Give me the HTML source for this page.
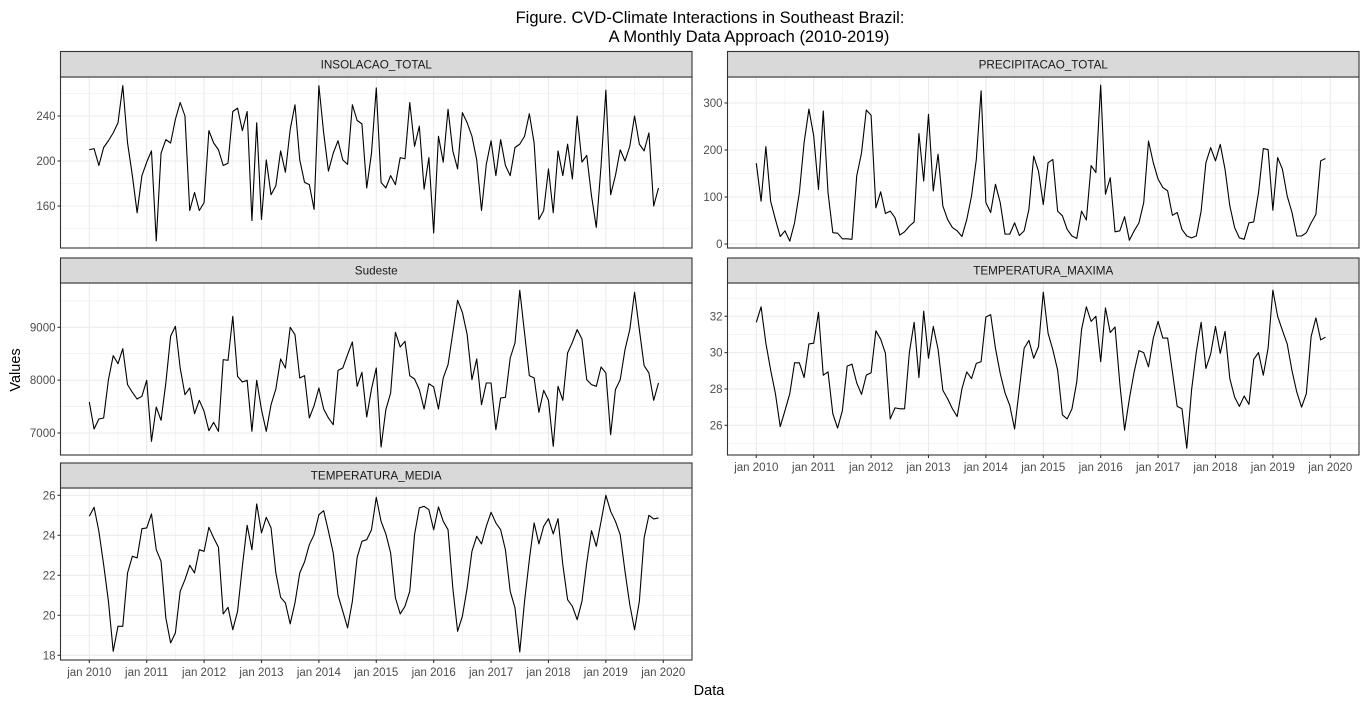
<!DOCTYPE html>
<html><head><meta charset="utf-8">
<style>
html,body{margin:0;padding:0;background:#fff;}
svg{display:block;font-family:"Liberation Sans",Arial,sans-serif;}
</style></head>
<body>
<svg id="chart" width="1366" height="705" viewBox="0 0 1366 705" xmlns="http://www.w3.org/2000/svg">
<rect width="1366" height="705" fill="#fff"/>
<text x="710" y="23" font-size="16.5" text-anchor="middle" fill="#000">Figure. CVD-Climate Interactions in Southeast Brazil:</text>
<text x="749" y="42" font-size="16.5" text-anchor="middle" fill="#000">A Monthly Data Approach (2010-2019)</text>
<text transform="translate(20,370) rotate(-90)" font-size="14.5" text-anchor="middle" fill="#000">Values</text>
<text x="709" y="695" font-size="14.5" text-anchor="middle" fill="#000">Data</text>
<g id="panels"></g>
</svg>
<script>
const yearLabels = ["jan 2010","jan 2011","jan 2012","jan 2013","jan 2014","jan 2015","jan 2016","jan 2017","jan 2018","jan 2019","jan 2020"];
const insolacao = [210,211,196,212,218,225,234,267,216,187,154,187,199,209,129,207,219,216,237,252,240,156,172,156,163,227,216,210,196,198,244,247,227,244,147,234,148,201,170,178,209,190,228,250,201,181,179,157,267,225,191,207,218,201,197,250,236,233,176,207,265,181,176,187,179,203,202,252,213,231,175,203,136,222,199,246,209,193,243,234,222,201,156,197,218,187,219,196,187,212,215,222,242,216,148,156,193,154,209,187,215,184,240,199,205,169,141,196,263,170,187,210,200,213,240,215,209,225,160,176];
const precipitacao = [172,91,207,91,52,16,28,6,45,109,216,287,230,116,283,109,24,23,11,11,10,145,194,285,274,77,111,65,70,56,19,26,38,47,235,134,276,113,191,81,52,35,28,16,52,102,180,326,88,67,127,88,21,21,45,18,28,74,187,155,84,173,180,70,60,31,17,12,70,51,167,152,338,106,141,26,28,58,8,28,45,88,219,173,138,120,113,61,67,31,17,13,17,70,173,205,177,212,159,81,35,13,10,45,47,109,203,201,72,184,159,102,67,17,17,24,45,63,177,182];
const sudeste = [7587,7075,7265,7284,8009,8464,8312,8596,7915,7770,7643,7694,7997,6842,7491,7240,7946,8830,9019,8230,7725,7852,7366,7618,7410,7044,7202,7031,8388,8375,9208,8072,7965,7997,7031,7997,7441,7031,7536,7833,8401,8230,9000,8861,8041,8085,7284,7517,7852,7454,7284,7157,8186,8230,8483,8722,7883,8148,7303,7833,8230,6735,7441,7757,8905,8628,8735,8085,8022,7820,7454,7934,7871,7454,8041,8293,8893,9511,9284,8861,8009,8401,7536,7946,7946,7063,7662,7675,8419,8703,9700,8893,8085,8041,7391,7807,7618,6747,7883,7618,8514,8716,8956,8779,8009,7915,7883,8249,8136,6968,7820,8009,8577,8956,9663,8956,8274,8136,7618,7946];
const tempMaxima = [31.67,32.52,30.52,29.04,27.74,25.93,26.81,27.74,29.44,29.44,28.63,30.48,30.52,32.22,28.76,28.94,26.63,25.85,26.81,29.26,29.37,28.33,27.70,28.76,28.89,31.20,30.74,29.96,26.35,26.96,26.91,26.91,30.00,31.67,28.63,32.28,29.69,31.44,30.19,27.93,27.46,26.91,26.48,28.02,28.94,28.57,29.41,29.50,31.96,32.09,30.24,28.85,27.78,27.09,25.80,28.02,30.24,30.67,29.69,30.33,33.33,31.07,30.15,29.04,26.57,26.35,26.91,28.39,31.26,32.52,31.72,32.00,29.50,32.46,31.11,31.41,28.30,25.74,27.46,28.94,30.11,30.00,29.22,30.80,31.72,30.80,30.80,28.94,27.04,26.91,24.74,27.93,30.06,31.67,29.13,29.93,31.44,29.96,31.17,28.57,27.56,27.04,27.61,27.15,29.63,30.00,28.76,30.24,33.44,32.00,31.22,30.48,29.00,27.83,27.00,27.74,30.89,31.91,30.70,30.85];
const tempMedia = [24.95,25.40,24.20,22.53,20.70,18.20,19.45,19.45,22.12,22.95,22.87,24.33,24.37,25.07,23.28,22.70,19.87,18.62,19.12,21.20,21.78,22.50,22.12,23.28,23.20,24.40,23.87,23.40,20.07,20.40,19.28,20.20,22.45,24.50,23.28,25.57,24.12,24.90,24.37,22.12,20.90,20.62,19.57,20.62,22.12,22.67,23.53,24.03,25.03,25.23,24.20,23.12,21.00,20.20,19.37,20.70,22.90,23.70,23.78,24.28,25.90,24.70,24.07,23.12,20.87,20.07,20.45,21.20,24.03,25.37,25.45,25.28,24.28,25.42,24.70,24.28,21.37,19.20,19.95,21.37,23.20,23.95,23.57,24.45,25.15,24.62,24.28,23.28,21.20,20.37,18.17,20.70,22.78,24.62,23.57,24.45,24.83,24.07,24.83,22.53,20.78,20.45,19.78,20.70,22.62,24.23,23.45,24.70,26.00,25.20,24.70,24.03,22.20,20.53,19.28,20.70,23.87,25.00,24.82,24.87];
const insolTicks = [160,200,240];
const precipTicks = [0,100,200,300];
const sudesteTicks = [7000,8000,9000];
const tmaxTicks = [26,28,30,32];
const tmedTicks = [18,20,22,24,26];

const NS = "http://www.w3.org/2000/svg";
const root = document.getElementById("panels");
function mk(tag, attrs, parent){ const e=document.createElementNS(NS,tag); for(const k in attrs) e.setAttribute(k,attrs[k]); (parent||root).appendChild(e); return e; }

const panels = [
 {key:"insolacao-total",title:"INSOLACAO_TOTAL",data:insolacao,ticks:insolTicks,x0:60.5,st:51.5,pt:77,pb:248,v1:240,y1:116,v2:160,y2:206,minorStep:20,xaxis:false},
 {key:"precipitacao-total",title:"PRECIPITACAO_TOTAL",data:precipitacao,ticks:precipTicks,x0:727.5,st:51.5,pt:77,pb:248,v1:300,y1:103,v2:0,y2:244,minorStep:50,xaxis:false},
 {key:"sudeste",title:"Sudeste",data:sudeste,ticks:sudesteTicks,x0:60.5,st:258,pt:283,pb:455,v1:9000,y1:327.3,v2:7000,y2:433,minorStep:500,xaxis:false},
 {key:"temperatura-maxima",title:"TEMPERATURA_MAXIMA",data:tempMaxima,ticks:tmaxTicks,x0:727.5,st:258,pt:283,pb:455,v1:32,y1:316.3,v2:26,y2:425.3,minorStep:1,xaxis:true},
 {key:"temperatura-media",title:"TEMPERATURA_MEDIA",data:tempMedia,ticks:tmedTicks,x0:60.5,st:463,pt:488,pb:660,v1:26,y1:495.3,v2:18,y2:655.3,minorStep:1,xaxis:true}
];
const W = 631.5, MONTH = 4.783, XOFF = 28.8;

panels.forEach((p,pi)=>{
  const g = mk("g",{});
  
  
  const ys = v => p.y1 + (v-p.v1)*(p.y2-p.y1)/(p.v2-p.v1);
  const xs = i => p.x0 + XOFF + i*MONTH;
  const xr = p.x0+W;
  mk("rect",{x:p.x0,y:p.pt,width:W,height:p.pb-p.pt,fill:"#fff"},g);
  const st = p.minorStep;
  const vTop = p.v1 + (p.pt-p.y1)*(p.v2-p.v1)/(p.y2-p.y1);
  const vBot = p.v1 + (p.pb-p.y1)*(p.v2-p.v1)/(p.y2-p.y1);
  const vmin=Math.min(vTop,vBot), vmax=Math.max(vTop,vBot);
  const tickSet = new Set(p.ticks.map(t=>+t.toFixed(4)));
  for(let v=Math.ceil(vmin/st)*st; v<=vmax; v+=st){
    if(tickSet.has(+v.toFixed(4))) continue;
    if(p.key==="precipitacao-total" && (v<0||v>300)) continue;
    const y=ys(v);
    mk("line",{x1:p.x0,x2:xr,y1:y,y2:y,stroke:"#ebebeb","stroke-width":0.55},g);
  }
  for(let k=-1;k<=10;k++){
    const xm = xs(12*k+6);
    if(xm>p.x0 && xm<xr) mk("line",{x1:xm,x2:xm,y1:p.pt,y2:p.pb,stroke:"#ebebeb","stroke-width":0.55},g);
  }
  yearLabels.forEach((lab,k)=>{
    const x=xs(12*k);
    if(x<xr) mk("line",{x1:x,x2:x,y1:p.pt,y2:p.pb,stroke:"#ebebeb","stroke-width":1.1},g);
  });
  p.ticks.forEach(t=>{
    const y=ys(t);
    mk("line",{x1:p.x0,x2:xr,y1:y,y2:y,stroke:"#ebebeb","stroke-width":1.1},g);
    mk("line",{x1:p.x0-3,x2:p.x0,y1:y,y2:y,stroke:"#333","stroke-width":1.1},g);
    const tl = mk("text",{x:p.x0-5,y:y+4,"font-size":11.5,"text-anchor":"end",fill:"#4d4d4d"},g);
    
    
    tl.textContent = String(t);
  });
  const d = p.data.map((v,i)=>(i?"L":"M")+xs(i).toFixed(2)+","+ys(v).toFixed(2)).join("");
  const ln = mk("path",{d:d,fill:"none",stroke:"#000","stroke-width":1.1,"stroke-linejoin":"round"},g);
  
  
  mk("rect",{x:p.x0,y:p.pt,width:W,height:p.pb-p.pt,fill:"none",stroke:"#333","stroke-width":1.1},g);
  const sr = mk("rect",{x:p.x0,y:p.st,width:W,height:p.pt-p.st,fill:"#d9d9d9",stroke:"#333","stroke-width":1.1},g);
  
  
  const stt = mk("text",{x:p.x0+W/2,y:(p.st+p.pt)/2+4.2,"font-size":11.7,"text-anchor":"middle",fill:"#1a1a1a"},g);
  
  
  stt.textContent = p.title;
  if(p.xaxis){
    yearLabels.forEach((lab,k)=>{
      const x=xs(12*k);
      mk("line",{x1:x,x2:x,y1:p.pb,y2:p.pb+3,stroke:"#333","stroke-width":1.1},g);
      const xl = mk("text",{x:x,y:p.pb+16,"font-size":11.5,"text-anchor":"middle",fill:"#4d4d4d"},g);
      
      
      xl.textContent = lab;
    });
  }
});
</script>
</body></html>
